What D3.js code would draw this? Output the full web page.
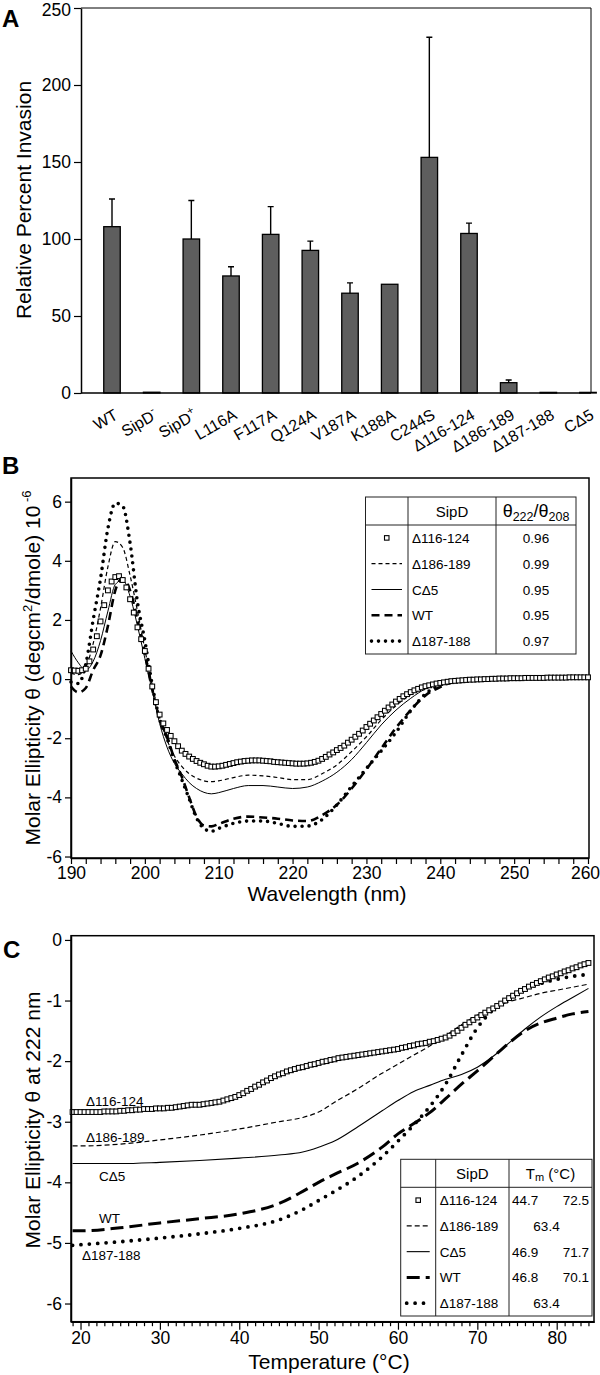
<!DOCTYPE html>
<html><head><meta charset="utf-8">
<script src="https://cdn.jsdelivr.net/npm/d3@7"></script>
<style>
body{margin:0;background:#fff;}
svg{display:block;font-family:"Liberation Sans",Arial,Helvetica,sans-serif;}
</style></head><body>
<svg id="chart" width="600" height="1375"></svg>
<script>
// ---------------- DATA ----------------
// Panel A
const barCategories = ["WT","SipD-","SipD+","L116A","F117A","Q124A","V187A","K188A","C244S","Δ116-124","Δ186-189","Δ187-188","CΔ5"];
const barValues = [108,0.5,100,76,103,92.6,64.8,70.6,153,103.6,6.7,0.4,0.4];
const barErrors = [18,0,25,6,18,6,6.7,0,78,6.7,1.7,0,0];
const yTicksA = [0,50,100,150,200,250];

// Panel B (far-UV CD spectra)
const seriesNames = ["Δ116-124","Δ186-189","CΔ5","WT","Δ187-188"];
const wlSquares = d3.range(190, 260.01, 0.5);
const cdSquares = [
  0.3,0.29,0.28,0.3,0.35,0.6,1.0,1.45,1.95,2.5,
  3.0,3.3,3.45,3.48,3.35,3.1,2.7,2.25,1.75,1.35,
  0.95,0.35,-0.25,-0.78,-1.2,-1.5,-1.72,-1.92,-2.1,-2.27,
  -2.42,-2.53,-2.62,-2.7,-2.77,-2.83,-2.88,-2.93,-2.96,-2.96,
  -2.95,-2.93,-2.9,-2.87,-2.84,-2.81,-2.79,-2.77,-2.76,-2.75,
  -2.75,-2.75,-2.76,-2.77,-2.78,-2.8,-2.81,-2.82,-2.83,-2.84,
  -2.85,-2.86,-2.86,-2.86,-2.85,-2.83,-2.8,-2.76,-2.7,-2.63,
  -2.55,-2.48,-2.4,-2.33,-2.25,-2.15,-2.05,-1.95,-1.85,-1.74,
  -1.62,-1.51,-1.4,-1.29,-1.18,-1.07,-0.96,-0.86,-0.76,-0.67,
  -0.58,-0.51,-0.44,-0.38,-0.33,-0.28,-0.24,-0.21,-0.18,-0.15,
  -0.13,-0.11,-0.09,-0.07,-0.06,-0.05,-0.04,-0.03,-0.02,-0.02,
  -0.01,-0.01,0,0,0.01,0.01,0.02,0.02,0.02,0.03,
  0.03,0.03,0.03,0.04,0.04,0.04,0.04,0.04,0.04,0.05,
  0.05,0.05,0.05,0.05,0.05,0.06,0.06,0.06,0.06,0.06,
  0.06];
const wlLines = [190,191,192,193,194,195,196,197,198,199,200,201,202,203,204,205,206,207,208,209,210,212,214,216,218,220,222,224,226,228,230,232,234,236,238,240,242,245,250,255,260];
const cd186 = [0.2,0.15,0.4,1.2,2.4,3.8,4.65,4.45,3.5,2.3,1.0,-0.2,-1.3,-2.05,-2.6,-2.95,-3.2,-3.35,-3.44,-3.47,-3.44,-3.33,-3.25,-3.27,-3.33,-3.4,-3.4,-3.2,-2.9,-2.45,-1.95,-1.38,-0.9,-0.52,-0.27,-0.12,-0.05,0,0.03,0.04,0.05];
const cdC5 = [0.95,0.55,0.3,0.6,1.3,2.3,3.2,3.35,2.8,1.8,0.7,-0.4,-1.5,-2.3,-2.85,-3.2,-3.5,-3.7,-3.83,-3.88,-3.84,-3.7,-3.6,-3.6,-3.65,-3.7,-3.65,-3.45,-3.15,-2.72,-2.15,-1.55,-1.05,-0.65,-0.33,-0.15,-0.06,0,0.03,0.04,0.05];
const cdWT = [-0.25,-0.45,-0.3,0.3,0.8,1.8,3.0,3.4,3.0,2.0,0.85,-0.35,-1.35,-1.95,-2.7,-3.3,-4.0,-4.65,-4.95,-4.98,-4.9,-4.72,-4.65,-4.68,-4.72,-4.78,-4.8,-4.6,-4.25,-3.7,-3.05,-2.35,-1.65,-1.05,-0.55,-0.27,-0.08,0,0.03,0.04,0.05];
const cd187 = [-0.1,-0.15,0.5,2.0,3.4,5.1,5.95,5.85,4.6,2.6,1.3,-0.2,-1.35,-2.0,-2.75,-3.4,-4.05,-4.7,-5.05,-5.15,-5.05,-4.88,-4.8,-4.8,-4.88,-4.98,-4.97,-4.75,-4.25,-3.63,-3.02,-2.43,-1.8,-1.07,-0.5,-0.2,-0.08,0,0.03,0.04,0.05];
const ratio222_208 = ["0.96","0.99","0.95","0.95","0.97"];
const yTicksB = [-6,-4,-2,0,2,4,6];

// Panel C (thermal melts at 222 nm)
const tSquares = d3.range(19, 84.01, 0.5);
const mSquares = [
  -2.84,-2.84,-2.84,-2.84,-2.84,-2.84,-2.84,-2.84,-2.83,-2.83,
  -2.83,-2.83,-2.82,-2.82,-2.81,-2.81,-2.8,-2.8,-2.79,-2.79,
  -2.79,-2.78,-2.78,-2.78,-2.77,-2.77,-2.76,-2.75,-2.74,-2.73,
  -2.72,-2.72,-2.72,-2.71,-2.7,-2.69,-2.68,-2.67,-2.65,-2.63,
  -2.61,-2.59,-2.56,-2.53,-2.49,-2.46,-2.42,-2.39,-2.35,-2.32,
  -2.28,-2.25,-2.22,-2.2,-2.17,-2.15,-2.13,-2.11,-2.1,-2.08,
  -2.06,-2.05,-2.03,-2.01,-2.0,-1.98,-1.97,-1.95,-1.94,-1.93,
  -1.92,-1.91,-1.9,-1.89,-1.88,-1.87,-1.86,-1.85,-1.84,-1.83,
  -1.82,-1.81,-1.8,-1.78,-1.77,-1.75,-1.74,-1.72,-1.71,-1.7,
  -1.68,-1.67,-1.65,-1.63,-1.61,-1.58,-1.54,-1.5,-1.45,-1.4,
  -1.36,-1.32,-1.28,-1.24,-1.2,-1.16,-1.13,-1.09,-1.05,-1.0,
  -0.96,-0.92,-0.88,-0.84,-0.81,-0.77,-0.74,-0.71,-0.68,-0.65,
  -0.62,-0.6,-0.57,-0.55,-0.52,-0.5,-0.47,-0.45,-0.42,-0.4,
  -0.38];
const tLines = [19,20,25,30,35,40,45,48,50,52,55,58,60,62,64,66,68,70,72,74,76,78,80,82,84];
const m186 = [-3.4,-3.4,-3.37,-3.3,-3.22,-3.12,-3.0,-2.93,-2.84,-2.68,-2.45,-2.2,-2.05,-1.9,-1.75,-1.58,-1.4,-1.24,-1.12,-1.02,-0.95,-0.88,-0.83,-0.78,-0.73];
const mC5 = [-3.69,-3.69,-3.69,-3.67,-3.64,-3.6,-3.55,-3.5,-3.42,-3.32,-3.08,-2.82,-2.65,-2.5,-2.4,-2.3,-2.22,-2.1,-1.92,-1.7,-1.47,-1.27,-1.1,-0.95,-0.8];
const mWT = [-4.8,-4.8,-4.75,-4.67,-4.6,-4.52,-4.35,-4.15,-4.0,-3.87,-3.68,-3.42,-3.2,-3.03,-2.85,-2.62,-2.38,-2.16,-1.93,-1.7,-1.5,-1.37,-1.29,-1.22,-1.18];
const m187 = [-5.04,-5.03,-4.98,-4.92,-4.85,-4.76,-4.62,-4.45,-4.3,-4.15,-3.9,-3.58,-3.32,-3.05,-2.75,-2.38,-1.9,-1.45,-1.15,-0.95,-0.82,-0.72,-0.65,-0.6,-0.57];
const tmValues = [["44.7","72.5"],["63.4"],["46.9","71.7"],["46.8","70.1"],["63.4"]];
const yTicksC = [-6,-5,-4,-3,-2,-1,0];
const xTicksC = [20,30,40,50,60,70,80];

// ---------------- DRAWING ----------------
const svg = d3.select("#chart");
const TICKF = 17.5, TITLEF = 21, LEGF = 13.5;
const minusFmt = d => d < 0 ? "-" + Math.abs(d) : String(d);

function styleAxis(g, w){
  g.select(".domain").attr("stroke","#000").attr("stroke-width",w||1.5);
  g.selectAll(".tick line").attr("stroke","#000").attr("stroke-width",1.2);
  g.selectAll(".tick text").attr("font-size",TICKF).attr("fill","#000").attr("font-family",'"Liberation Sans",Arial,sans-serif');
}

// ===== Panel A =====
const xA = d3.scalePoint().domain(barCategories).range([112, 588]);
const yA = d3.scaleLinear().domain([0,250]).range([393,8]);
const A = svg.append("g");
A.append("text").attr("x",2).attr("y",27).attr("font-size",24).attr("font-weight","bold").text("A");
A.append("path").attr("d",`M81,${yA(250)}H591V${yA(0)}`).attr("fill","none").attr("stroke","#000").attr("stroke-width",1);
A.selectAll("rect.bar").data(barCategories).join("rect").attr("class","bar")
  .attr("x", d => xA(d)-8.25).attr("width",16.5)
  .attr("y", (d,i) => yA(barValues[i])).attr("height", (d,i) => yA(0)-yA(barValues[i]))
  .attr("fill","#5e5e5e").attr("stroke","#000").attr("stroke-width",1.3);
const errIdx = barCategories.map((d,i)=>i).filter(i => barErrors[i] > 0);
A.selectAll("path.err").data(errIdx).join("path").attr("class","err")
  .attr("d", i => {const x=xA(barCategories[i]), y0=yA(barValues[i]), y1=yA(barValues[i]+barErrors[i]);
     return `M${x},${y0}V${y1}M${x-3},${y1}H${x+3}`;})
  .attr("stroke","#000").attr("stroke-width",1.4).attr("fill","none");
const axA = A.append("g").attr("transform","translate(81,0)")
  .call(d3.axisLeft(yA).tickValues(yTicksA).tickSize(7).tickSizeOuter(0).tickPadding(3));
styleAxis(axA);
axA.selectAll(".tick text").filter(d => d === 250).attr("dy","0.45em");
A.append("line").attr("x1",81).attr("x2",591).attr("y1",yA(0)).attr("y2",yA(0)).attr("stroke","#000").attr("stroke-width",1.5);
A.append("text").attr("transform","translate(31,200) rotate(-90)").attr("text-anchor","middle")
  .attr("font-size",TITLEF).text("Relative Percent Invasion");
barCategories.forEach(c => {
  const t = A.append("text").attr("transform",`translate(${xA(c)+7},418) rotate(-30)`)
    .attr("text-anchor","end").attr("font-size",16);
  const m = c.match(/^(SipD)([+-])$/);
  if (m){ t.append("tspan").text(m[1]); t.append("tspan").attr("dy",-7).attr("font-size",11).text(m[2]); }
  else t.text(c);
});

// ===== Panel B =====
const xB = d3.scaleLinear().domain([190,260]).range([71,588]);
const yB = d3.scaleLinear().domain([-6.05,6.8]).range([858,478]);
const B = svg.append("g");
B.append("text").attr("x",2).attr("y",474).attr("font-size",24).attr("font-weight","bold").text("B");
B.append("rect").attr("x",71).attr("y",478).attr("width",589-71).attr("height",858-478)
  .attr("fill","none").attr("stroke","#000").attr("stroke-width",1.5);

const stylesB = {
  "Δ186-189": {dash:"4,3", w:1.2, cap:"butt"},
  "CΔ5": {dash:null, w:1, cap:"butt"},
  "WT": {dash:"8,5", w:2.6, cap:"butt"},
  "Δ187-188": {dash:"0,7", w:3.6, cap:"round"}
};
const stylesC = {
  "Δ186-189": {dash:"5,3", w:1.2, cap:"butt"},
  "CΔ5": {dash:null, w:1.1, cap:"butt"},
  "WT": {dash:"13,6", w:3, cap:"butt"},
  "Δ187-188": {dash:"0,8.4", w:3.8, cap:"round"}
};
const lineSeriesB = [["Δ186-189",cd186],["CΔ5",cdC5],["WT",cdWT],["Δ187-188",cd187]];
const lineGen = d3.line().curve(d3.curveMonotoneX);
lineSeriesB.forEach(([name,vals]) => {
  const s = stylesB[name];
  B.append("path").attr("d", lineGen(wlLines.map((w,i)=>[xB(w), yB(vals[i])])))
    .attr("fill","none").attr("stroke","#000").attr("stroke-width",s.w)
    .attr("stroke-dasharray",s.dash).attr("stroke-linecap",s.cap);
});
B.selectAll("rect.sq").data(wlSquares).join("rect").attr("class","sq")
  .attr("x",(w)=>xB(w)-2.4).attr("y",(w,i)=>yB(cdSquares[i])-2.4).attr("width",4.8).attr("height",4.8)
  .attr("fill","#fff").attr("stroke","#000").attr("stroke-width",1.05);
const axBy = B.append("g").attr("transform","translate(71,0)")
  .call(d3.axisLeft(yB).tickValues(yTicksB).tickSize(6).tickSizeOuter(0).tickPadding(3).tickFormat(minusFmt));
styleAxis(axBy);
const axBx = B.append("g").attr("transform","translate(0,858)")
  .call(d3.axisBottom(xB).tickValues(d3.range(190,261,2)).tickSize(6).tickSizeOuter(0).tickPadding(3)
    .tickFormat(d => d % 10 === 0 ? d : ""));
styleAxis(axBx);
axBx.selectAll(".tick text").filter(d => d === 260).attr("dx",-3);
B.append("text").attr("x",327).attr("y",901).attr("text-anchor","middle").attr("font-size",TITLEF).text("Wavelength (nm)");
{
  const t = B.append("text").attr("transform","translate(40,668) rotate(-90)").attr("text-anchor","middle").attr("font-size",TITLEF);
  t.append("tspan").text("Molar Ellipticity θ (degcm");
  t.append("tspan").attr("dy",-8).attr("font-size",13).text("2");
  t.append("tspan").attr("dy",8).text("/dmole) 10");
  t.append("tspan").attr("dy",-9).attr("font-size",13).text(" -6");
}

// legend helper
function drawLegend(g, L, styles, headerFn, valueFn, sqSize){
  g.append("rect").attr("x",L.x0).attr("y",L.y0).attr("width",L.x1-L.x0).attr("height",L.y1-L.y0)
    .attr("fill","#fff").attr("stroke","#222").attr("stroke-width",1);
  g.append("line").attr("x1",L.c1).attr("x2",L.c1).attr("y1",L.y0).attr("y2",L.y1).attr("stroke","#222");
  g.append("line").attr("x1",L.c2).attr("x2",L.c2).attr("y1",L.y0).attr("y2",L.y1).attr("stroke","#222");
  g.append("line").attr("x1",L.x0).attr("x2",L.x1).attr("y1",L.yh).attr("y2",L.yh).attr("stroke","#222");
  const hy = (L.y0+L.yh)/2 + 5.5;
  g.append("text").attr("x",(L.c1+L.c2)/2).attr("y",hy).attr("text-anchor","middle").attr("font-size",15).text("SipD");
  headerFn(g, (L.c2+L.x1)/2, hy);
  const rh = (L.y1-L.yh)/seriesNames.length;
  seriesNames.forEach((name,i) => {
    const cy = L.yh + rh*(i+0.5);
    const sx0 = L.x0+6, sx1 = L.c1-6, scx = (L.x0+L.c1)/2;
    if (name === "Δ116-124"){
      g.append("rect").attr("x",scx-sqSize/2).attr("y",cy-sqSize/2).attr("width",sqSize).attr("height",sqSize)
        .attr("fill","#fff").attr("stroke","#000").attr("stroke-width",1.1);
    } else {
      const s = styles[name];
      g.append("line").attr("x1",sx0).attr("x2",sx1).attr("y1",cy).attr("y2",cy)
        .attr("stroke","#000").attr("stroke-width",s.w).attr("stroke-dasharray",s.dash).attr("stroke-linecap",s.cap);
    }
    g.append("text").attr("x",L.c1+4).attr("y",cy+5).attr("font-size",LEGF).text(name);
    valueFn(g, i, L, cy+5);
  });
}
drawLegend(B, {x0:365.5,c1:408,c2:496,x1:576,y0:497,yh:525,y1:654}, stylesB,
  (g,cx,y) => {
    const t = g.append("text").attr("x",cx).attr("y",y).attr("text-anchor","middle").attr("font-size",18);
    t.append("tspan").text("θ");
    t.append("tspan").attr("dy",4).attr("font-size",12.5).text("222");
    t.append("tspan").attr("dy",-4).text("/θ");
    t.append("tspan").attr("dy",4).attr("font-size",12.5).text("208");
  },
  (g,i,L,y) => g.append("text").attr("x",(L.c2+L.x1)/2).attr("y",y).attr("text-anchor","middle").attr("font-size",LEGF).text(ratio222_208[i]),
  4.5);

// ===== Panel C =====
const xC = d3.scaleLinear().domain([18.8,84.7]).range([71,594]);
const yC = d3.scaleLinear().domain([-6.3,0.07]).range([1321.7,935.7]);
const C = svg.append("g");
C.append("text").attr("x",3).attr("y",958).attr("font-size",24).attr("font-weight","bold").text("C");
C.append("rect").attr("x",71).attr("y",935.7).attr("width",594-71).attr("height",1321.7-935.7)
  .attr("fill","none").attr("stroke","#000").attr("stroke-width",1.5);
const lineSeriesC = [["Δ186-189",m186],["CΔ5",mC5],["WT",mWT],["Δ187-188",m187]];
lineSeriesC.forEach(([name,vals]) => {
  const s = stylesC[name];
  C.append("path").attr("d", lineGen(tLines.map((t,i)=>[xC(t), yC(vals[i])])))
    .attr("fill","none").attr("stroke","#000").attr("stroke-width",s.w)
    .attr("stroke-dasharray",s.dash).attr("stroke-linecap",s.cap);
});
C.selectAll("rect.sq").data(tSquares).join("rect").attr("class","sq")
  .attr("x",t=>xC(t)-2.4).attr("y",(t,i)=>yC(mSquares[i])-2.4).attr("width",4.8).attr("height",4.8)
  .attr("fill","#fff").attr("stroke","#000").attr("stroke-width",1.05);
const axCy = C.append("g").attr("transform","translate(71,0)")
  .call(d3.axisLeft(yC).tickValues(yTicksC).tickSize(6).tickSizeOuter(0).tickPadding(3).tickFormat(minusFmt));
styleAxis(axCy);
const axCxMinor = C.append("g").attr("transform","translate(0,1321.7)")
  .call(d3.axisBottom(xC).tickValues(d3.range(19,85,1).filter(d=>d%10!==0)).tickSize(4.5).tickSizeOuter(0).tickFormat(""));
styleAxis(axCxMinor);
const axCx = C.append("g").attr("transform","translate(0,1321.7)")
  .call(d3.axisBottom(xC).tickValues(xTicksC).tickSize(8).tickSizeOuter(0).tickPadding(2));
styleAxis(axCx);
C.append("text").attr("x",329).attr("y",1369).attr("text-anchor","middle").attr("font-size",TITLEF).text("Temperature (°C)");
C.append("text").attr("transform","translate(40,1120) rotate(-90)").attr("text-anchor","middle")
  .attr("font-size",TITLEF).text("Molar Ellipticity θ at 222 nm");

// curve labels
const curveLabelOffsets = {"Δ116-124":[86,-6],"Δ186-189":[86,-4],"CΔ5":[99,17],"WT":[99,-8],"Δ187-188":[82,15]};
const firstVals = {"Δ116-124":mSquares[0],"Δ186-189":m186[0],"CΔ5":mC5[0],"WT":mWT[0],"Δ187-188":m187[0]};
seriesNames.forEach(n => {
  C.append("text").attr("x",curveLabelOffsets[n][0]).attr("y",yC(firstVals[n])+curveLabelOffsets[n][1])
    .attr("font-size",LEGF).text(n);
});

drawLegend(C, {x0:400.7,c1:435.7,c2:509,x1:592,y0:1159.3,yh:1187.3,y1:1316}, stylesC,
  (g,cx,y) => {
    const t = g.append("text").attr("x",cx).attr("y",y).attr("text-anchor","middle").attr("font-size",15);
    t.append("tspan").text("T");
    t.append("tspan").attr("dy",2).attr("font-size",11).text("m");
    t.append("tspan").attr("dy",-2).text("  (°C)");
  },
  (g,i,L,y) => {
    const v = tmValues[i];
    if (v.length === 2){
      g.append("text").attr("x",L.c2+3).attr("y",y).attr("font-size",LEGF).text(v[0]);
      g.append("text").attr("x",L.x1-3).attr("y",y).attr("text-anchor","end").attr("font-size",LEGF).text(v[1]);
    } else {
      g.append("text").attr("x",(L.c2+L.x1)/2-4).attr("y",y).attr("text-anchor","middle").attr("font-size",LEGF).text(v[0]);
    }
  },
  4.5);
</script>
</body></html>
